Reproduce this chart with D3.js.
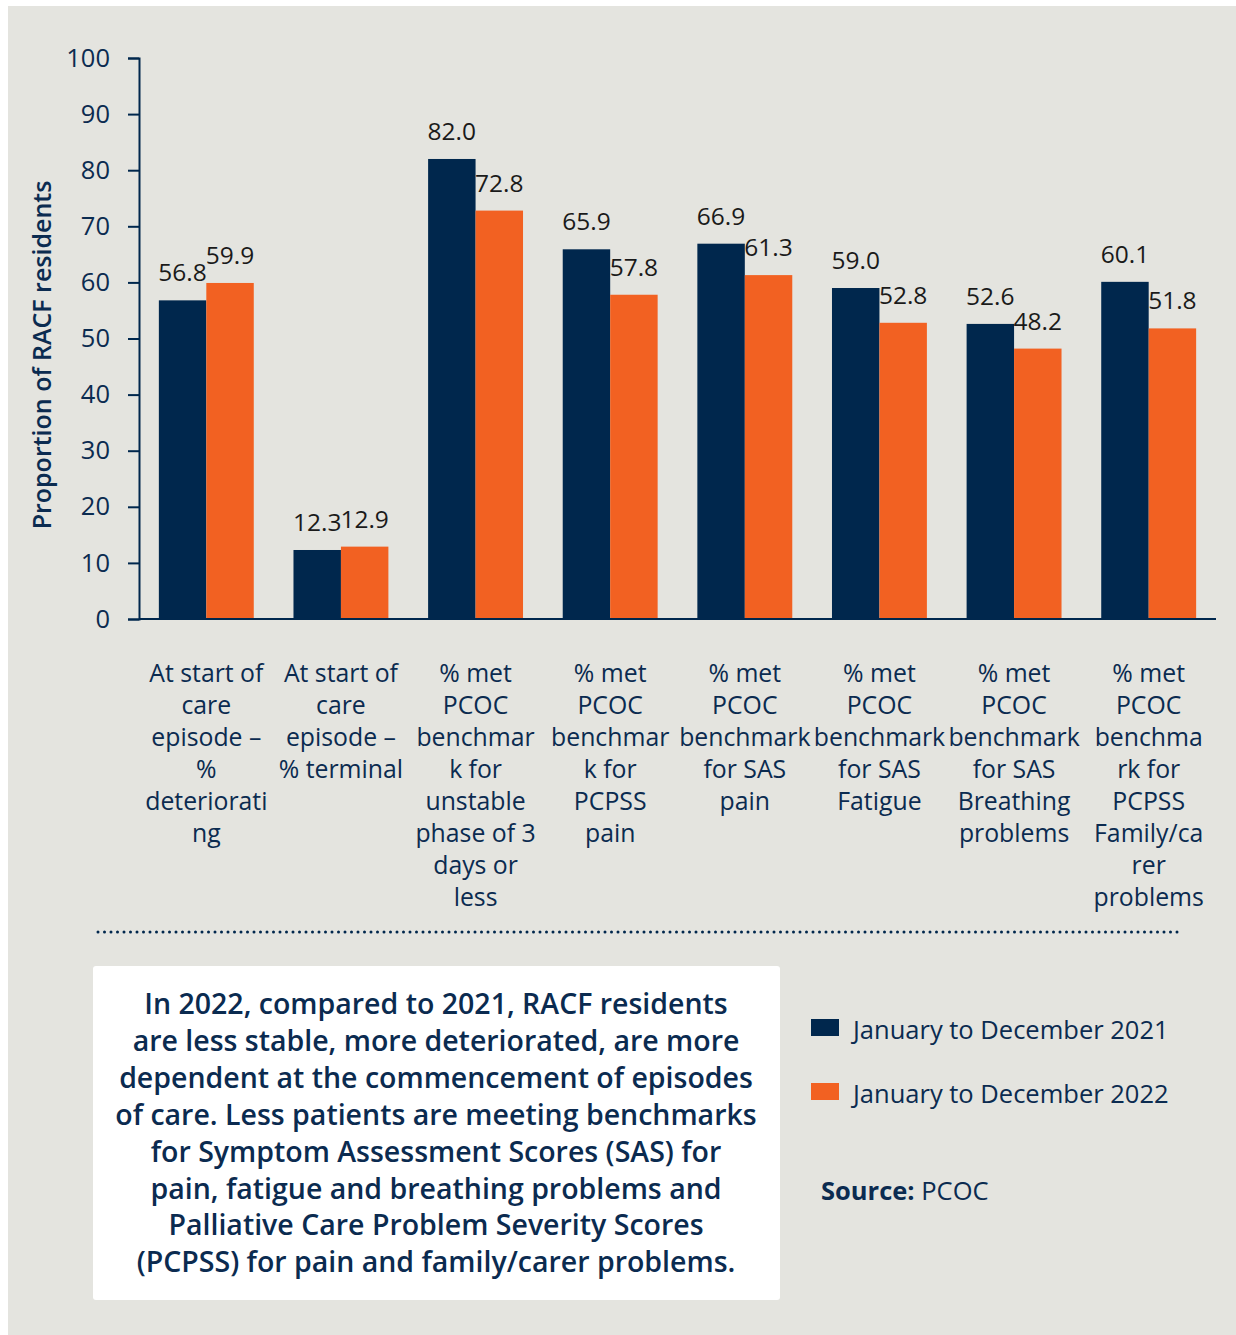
<!DOCTYPE html>
<html>
<head>
<meta charset="utf-8">
<script src="https://cdn.jsdelivr.net/npm/d3@7"></script>
<style>
  html, body { margin: 0; padding: 0; background: #fff; }
  svg text { font-family: "Open Sans", "Noto Sans", sans-serif; }
</style>
</head>
<body>
<div id="chart"></div>
<script>
// grouped bars: RACF residents, 2021 vs 2022

const categories = [
  ["At start of", "care", "episode \u2013", "%", "deteriorati", "ng"],
  ["At start of", "care", "episode \u2013", "% terminal"],
  ["% met", "PCOC", "benchmar", "k for", "unstable", "phase of 3", "days or", "less"],
  ["% met", "PCOC", "benchmar", "k for", "PCPSS", "pain"],
  ["% met", "PCOC", "benchmark", "for SAS", "pain"],
  ["% met", "PCOC", "benchmark", "for SAS", "Fatigue"],
  ["% met", "PCOC", "benchmark", "for SAS", "Breathing", "problems"],
  ["% met", "PCOC", "benchma", "rk for", "PCPSS", "Family/ca", "rer", "problems"]
]
const series = ["January to December 2021", "January to December 2022"]
const values2021 = [56.8, 12.3, 82.0, 65.9, 66.9, 59.0, 52.6, 60.1]
const values2022 = [59.9, 12.9, 72.8, 57.8, 61.3, 52.8, 48.2, 51.8]
const yTicks = [0, 10, 20, 30, 40, 50, 60, 70, 80, 90, 100]
const summary = [
  "In 2022, compared to 2021, RACF residents",
  "are less stable, more deteriorated, are more",
  "dependent at the commencement of episodes",
  "of care. Less patients are meeting benchmarks",
  "for Symptom Assessment Scores (SAS) for",
  "pain, fatigue and breathing problems and",
  "Palliative Care Problem Severity Scores",
  "(PCPSS) for pain and family/carer problems."
]

const navy = "#00274d", orange = "#f26122", ink = "#0b2b50"
const W = 1236, H = 1335

const svg = d3.select("#chart").append("svg")
  .attr("width", W).attr("height", H)

svg.append("rect").attr("x", 8).attr("y", 6)
  .attr("width", W - 8).attr("height", H - 6).attr("fill", "#e4e4df")

// plot area
const pLeft = 139, pRight = 1216, pTop = 58, pBottom = 619
const data = values2021.map((v, i) => ({i: i, v21: v, v22: values2022[i]}))

const x = d3.scaleBand().domain(d3.range(categories.length))
  .range([pLeft, pRight]).paddingInner(0.295).paddingOuter(0.1475)
const xs = d3.scaleBand().domain([0, 1]).range([0, x.bandwidth()])
const y = d3.scaleLinear().domain([0, 100]).range([pBottom, pTop])

const g = svg.append("g")

// bars
const groups = g.selectAll(".grp").data(data).join("g")
  .attr("transform", d => `translate(${x(d.i)},0)`)

groups.each(function(d) {
  const vals = [d.v21, d.v22]
  const sel = d3.select(this)
  sel.selectAll("rect").data(vals).join("rect")
    .attr("x", (v, k) => xs(k))
    .attr("y", v => y(v))
    .attr("width", xs.bandwidth())
    .attr("height", v => y(0) - y(v))
    .attr("fill", (v, k) => k ? orange : navy)
  sel.selectAll("text.val").data(vals).join("text")
    .attr("class", "val")
    .attr("x", (v, k) => xs(k) + xs.bandwidth() / 2)
    .attr("y", v => y(v) - 19)
    .attr("text-anchor", "middle")
    .attr("font-size", 24.5)
    .attr("fill", "#1a1a1a")
    .text(v => v.toFixed(1))
})

// y axis
const yAxis = g.append("g").attr("transform", `translate(${pLeft},0)`)
  .call(d3.axisLeft(y).tickValues(yTicks).tickSize(11).tickPadding(18))
yAxis.select(".domain").attr("stroke", navy).attr("stroke-width", 2)
yAxis.selectAll(".tick line").attr("stroke", navy).attr("stroke-width", 2)
yAxis.selectAll(".tick text").attr("font-size", 25.5).attr("fill", ink)
  .attr("font-family", "Open Sans, Noto Sans, sans-serif")

// x axis baseline
const xAxis = g.append("g").attr("transform", `translate(0,${pBottom})`)
  .call(d3.axisBottom(x).tickSize(0).tickFormat(""))
xAxis.select(".domain").attr("stroke", navy).attr("stroke-width", 2)
  .attr("d", `M${pLeft},0H${pRight}`)

// category labels
const catLabels = g.selectAll(".cat").data(categories).join("text")
  .attr("text-anchor", "middle")
  .attr("font-size", 24.8)
  .attr("fill", ink)
catLabels.each(function(lines, i) {
  d3.select(this).selectAll("tspan").data(lines).join("tspan")
    .attr("x", x(i) + x.bandwidth() / 2)
    .attr("y", (l, j) => 682 + j * 32)
    .text(l => l)
})

// y title
svg.append("text")
  .attr("transform", "translate(51,355) rotate(-90)")
  .attr("text-anchor", "middle")
  .attr("font-size", 25).attr("font-weight", 600)
  .attr("fill", ink)
  .text("Proportion of RACF residents")

// dotted divider
svg.append("line").attr("x1", 98).attr("x2", 1182).attr("y1", 932).attr("y2", 932)
  .attr("stroke", navy).attr("stroke-width", 3)
  .attr("stroke-linecap", "round").attr("stroke-dasharray", "0 6.5")

// summary box
svg.append("rect").attr("x", 93).attr("y", 966).attr("width", 687).attr("height", 334)
  .attr("rx", 3).attr("fill", "#fff")
svg.append("text")
  .attr("text-anchor", "middle")
  .attr("font-size", 28.5).attr("font-weight", 600).attr("fill", ink)
  .selectAll("tspan").data(summary).join("tspan")
  .attr("x", 436)
  .attr("y", (l, j) => 1014 + j * 36.9)
  .text(l => l)

// legend
const leg = svg.append("g")
leg.selectAll("rect").data(series).join("rect")
  .attr("x", 811).attr("y", (s, k) => 1019 + k * 64)
  .attr("width", 28).attr("height", 17)
  .attr("fill", (s, k) => k ? orange : navy)
leg.selectAll("text").data(series).join("text")
  .attr("x", 853).attr("y", (s, k) => 1039 + k * 64)
  .attr("font-size", 25.5).attr("fill", ink)
  .text(s => s)

const src = svg.append("text").attr("x", 821).attr("y", 1200)
  .attr("font-size", 25.5).attr("fill", ink)
src.append("tspan").attr("font-weight", 700).text("Source:")
src.append("tspan").text(" PCOC")
</script>
</body>
</html>
